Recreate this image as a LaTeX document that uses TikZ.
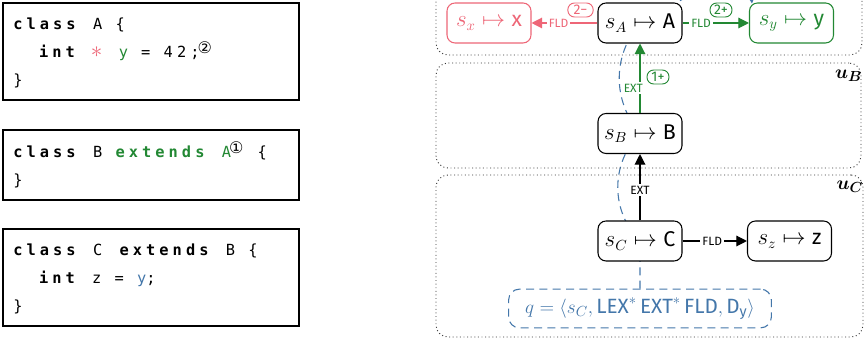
\documentclass[tikz,border=0pt]{standalone}
\usepackage{fontspec}
\setsansfont{Fira Sans}
\newfontfamily\cmono[LetterSpace=26.5]{DejaVu Sans Mono}
\newfontfamily\djv{DejaVu Sans}
\usetikzlibrary{arrows.meta,fit,backgrounds,calc}
\definecolor{tred}{HTML}{EE6677}
\definecolor{tgreen}{HTML}{228833}
\definecolor{tblue}{HTML}{4477AA}
\newlength\cw \setlength\cw{9.95pt}
\newcommand\codesetup{\fontsize{11.5pt}{13pt}\cmono\fontdimen2\font=\cw\fontdimen3\font=0pt\fontdimen4\font=0pt{\bfseries\fontdimen2\font=\cw\fontdimen3\font=0pt\fontdimen4\font=0pt}}
\newcommand\cbox[1]{\makebox[\cw][l]{\hspace{-1pt}#1}}
\newcommand\circn[1]{\makebox[\cw][l]{\hspace{-1.5pt}\raisebox{3pt}{\djv\fontsize{12}{12}\selectfont #1}}}
\tikzset{
 codebox/.style={draw, line width=0.8pt, inner sep=0pt},
 codeline/.style={anchor=base west, inner sep=0pt, font=\codesetup},
 st/.style={draw, rounded corners=6pt, fill=white, minimum width=63pt, minimum height=30pt, line width=0.8pt, font=\fontsize{16}{19}\selectfont, inner sep=2pt},
 lbl/.style={fill=white, font=\sffamily\fontsize{9}{10}\selectfont, inner sep=1.5pt},
 badge/.style={draw, rounded corners=5pt, fill=white, font=\sffamily\fontsize{10.5}{11}\selectfont, inner sep=0.5pt, minimum width=16.5pt, minimum height=10.5pt, line width=0.7pt},
 edge/.style={line width=0.9pt, -{Triangle[length=8pt,width=8pt]}},
 cont/.style={draw=black!80, dotted, line width=0.7pt, rounded corners=9pt, inner sep=0pt},
 ulbl/.style={anchor=north east, inner sep=0pt, font=\fontsize{15}{18}\selectfont\boldmath},
 qbox/.style={draw=tblue, text=tblue, dash pattern=on 6pt off 4pt, rounded corners=8pt, line width=0.8pt, minimum width=197pt, minimum height=29pt, font=\fontsize{15.5}{18}\selectfont, fill=white},
}
\begin{document}
\begin{tikzpicture}[x=0.75pt,y=0.75pt]
\begin{scope}[on background layer]
\fill[white] (0,0) rectangle (864,-341);
\end{scope}
\useasboundingbox (0,0) rectangle (864,-341);
% code boxes
\node[codebox, fit={(3,-3) (299,-100)}] (cA) {};
\node[codeline] (a1) at (13,-30) {\textbf{class} A \{};
\node[codeline] (a2) at (38.8,-58) {\textbf{int} \cbox{\textcolor{tred}{\raisebox{0.3pt}{\fontsize{17}{17}\selectfont$\ast$}}} \textcolor{tgreen}{y} = 42;\circn{②}};
\node[codeline] (a3) at (13,-86) {\}};
\node[codebox, fit={(3,-130) (299,-200)}] (cB) {};
\node[codeline] (b1) at (13,-158) {\textbf{class} B \textcolor{tgreen}{\textbf{extends} A}\circn{①} \{};
\node[codeline] (b2) at (13,-186) {\}};
\node[codebox, fit={(3,-229) (299,-326)}] (cC) {};
\node[codeline] (c1) at (13,-256) {\textbf{class} C \textbf{extends} B \{};
\node[codeline] (c2) at (38.8,-284) {\textbf{int} z = \textcolor{tblue}{y};};
\node[codeline] (c3) at (13,-312) {\}};
% containers
\node[cont, fit={(436,18) (862,-55)}] (uA) {};
\node[cont, fit={(436,-63) (861,-168)}] (uB) {};
\node[cont, fit={(436,-175) (863,-337)}] (uC) {};
\node[ulbl] (luA) at ($(uA.north east)+(1,-7)$) {$u_A$};
\node[ulbl] (luB) at ($(uB.north east)+(1,-7)$) {$u_B$};
\node[ulbl] (luC) at ($(uC.north east)+(0,-6)$) {$u_C$};
% nodes
\node[st] (sA) at (640,-23) {$s_A \mapsto \textsf{A}$};
\node[st, draw=tred, text=tred] (sx) at (489,-23) {$s_x \mapsto \textsf{x}$};
\node[st, draw=tgreen, text=tgreen] (sy) at (791.5,-23) {$s_y \mapsto \textsf{y}$};
\node[st] (sB) at (640,-133.5) {$s_B \mapsto \textsf{B}$};
\node[st] (sC) at (640,-241) {$s_C \mapsto \textsf{C}$};
\node[st] (sz) at (789.5,-241) {$s_z \mapsto \textsf{z}$};
\node[qbox] (q) at (640,-308.5) {$q = \langle s_C, \textsf{LEX}^{*}\,\textsf{EXT}^{*}\,\textsf{FLD}, \mathsf{D}_{\mathsf{y}}\rangle$};
% edges
\draw[edge] (sC) -- node[lbl, pos=.46]{EXT} (sB);
\draw[edge] (sC) -- node[lbl, pos=.46]{FLD} (sz);
\draw[edge, tgreen] (sB) -- node[lbl, pos=.36, xshift=-5pt, text=tgreen]{EXT} (sA);
\node[badge, draw=tgreen, text=tgreen] (b1p) at (658,-77) {1+};
\draw[edge, tred] (sA) -- node[lbl, pos=.59, text=tred]{FLD} (sx);
\node[badge, draw=tred, text=tred, minimum width=19pt] (b2m) at (580.5,-10) {2−};
\draw[edge, tgreen] (sA) -- node[lbl, pos=.28, text=tgreen]{FLD} (sy);
\node[badge, draw=tgreen, text=tgreen] (b2p) at (721,-10) {2+};
% query path
\coordinate (qend) at ($(sy.north west)+(3,-1)$);
\begin{scope}[on background layer]
\draw[tblue, dash pattern=on 6pt off 4pt, line width=0.8pt, -{Triangle[length=7pt,width=7pt]}] (q.north) -- (sC.center) to[out=135,in=-135] (sB.center) to[out=130,in=-130] (sA.center) to[out=30,in=95] (qend);
\end{scope}
\end{tikzpicture}
\end{document}
